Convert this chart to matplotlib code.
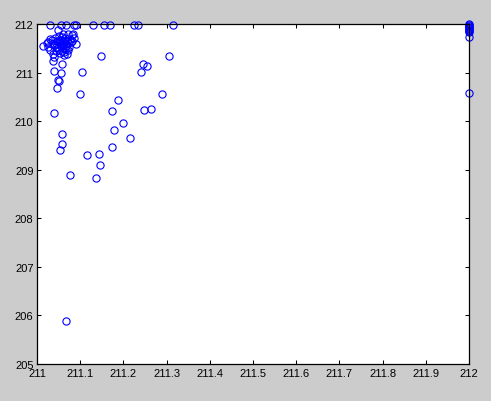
import matplotlib
matplotlib.use("Agg")
import matplotlib.pyplot as plt

# Scattered / top-row / edge points
x_top = [211.030, 211.056, 211.066, 211.086, 211.090, 211.130, 211.155, 211.169, 211.225, 211.234, 211.315]
y_top = [211.985, 211.985, 211.985, 211.985, 211.985, 211.985, 211.985, 211.985, 211.985, 211.985, 211.985]

x_edge = [212.0, 212.0, 212.0, 212.0, 212.0, 212.0, 212.0, 212.0, 212.0, 212.0, 212.0]
y_edge = [212.0, 211.98, 211.96, 211.94, 211.92, 211.90, 211.88, 211.86, 211.83, 211.74, 210.58]

x_scatter = [211.083, 211.090, 211.148, 211.306, 211.245, 211.255, 211.241, 211.104,
             211.037, 211.058, 211.039, 211.056, 211.049, 211.050, 211.046, 211.100,
             211.289, 211.039, 211.188, 211.174, 211.248, 211.264, 211.199, 211.178,
             211.058, 211.058, 211.053, 211.215, 211.174, 211.116, 211.144, 211.146,
             211.076, 211.137, 211.067]
y_scatter = [211.79, 211.59, 211.34, 211.34, 211.18, 211.14, 211.01, 211.01,
             211.24, 211.18, 211.03, 210.99, 210.85, 210.83, 210.68, 210.56,
             210.56, 210.17, 210.44, 210.21, 210.23, 210.25, 209.96, 209.82,
             209.74, 209.53, 209.41, 209.65, 209.47, 209.30, 209.32, 209.10,
             208.89, 208.83, 205.89]

# Dense cluster near (211.06, 211.6)
x_cluster = [211.025, 211.025, 211.030, 211.037, 211.039, 211.069, 211.072, 211.060, 211.049,
             211.072, 211.081, 211.076, 211.035, 211.014, 211.022, 211.030, 211.042, 211.050,
             211.058, 211.065, 211.070, 211.078, 211.045, 211.052, 211.060, 211.066, 211.055,
             211.048, 211.062, 211.068, 211.074, 211.044, 211.057, 211.063, 211.053, 211.040,
             211.047, 211.059, 211.064, 211.071, 211.056, 211.050, 211.061, 211.067, 211.034,
             211.043, 211.054, 211.062, 211.085, 211.080]
y_cluster = [211.63, 211.53, 211.46, 211.38, 211.32, 211.38, 211.46, 211.79, 211.88,
             211.79, 211.77, 211.69, 211.67, 211.55, 211.60, 211.70, 211.72, 211.75,
             211.74, 211.72, 211.66, 211.62, 211.60, 211.64, 211.62, 211.58, 211.55,
             211.50, 211.50, 211.55, 211.52, 211.45, 211.44, 211.42, 211.68, 211.57,
             211.66, 211.68, 211.64, 211.60, 211.58, 211.47, 211.56, 211.48, 211.58,
             211.52, 211.40, 211.37, 211.72, 211.66]

x_ticks = [211.0, 211.1, 211.2, 211.3, 211.4, 211.5, 211.6, 211.7, 211.8, 211.9, 212.0]
x_labels = ["211", "211.1", "211.2", "211.3", "211.4", "211.5", "211.6", "211.7", "211.8", "211.9", "212"]
y_ticks = [205, 206, 207, 208, 209, 210, 211, 212]
y_labels = ["205", "206", "207", "208", "209", "210", "211", "212"]

plt.rcParams['font.family'] = ['Liberation Sans', 'DejaVu Sans']

fig = plt.figure(figsize=(4.91, 4.02), dpi=100, facecolor='#cccccc')
ax = fig.add_axes([37/491, 37/402, 432/491, 340/402])
ax.set_facecolor('white')

xs = x_top + x_edge + x_scatter + x_cluster
ys = y_top + y_edge + y_scatter + y_cluster
ax.plot(xs, ys, linestyle='none', marker='o', markersize=5.2,
        markerfacecolor='none', markeredgecolor='#0000ff', markeredgewidth=0.8,
        clip_on=False)

ax.set_xlim(211, 212)
ax.set_ylim(205, 212)
ax.set_xticks(x_ticks)
ax.set_xticklabels(x_labels)
ax.set_yticks(y_ticks)
ax.set_yticklabels(y_labels)
ax.tick_params(direction='in', length=3, width=0.75, top=True, right=True,
               labelsize=8, colors='black')
ax.tick_params(axis='x', pad=3)
ax.tick_params(axis='y', pad=2.5)
for s in ax.spines.values():
    s.set_linewidth(0.9)
    s.set_color('black')

fig.savefig('out.png', dpi=100, facecolor=fig.get_facecolor())
